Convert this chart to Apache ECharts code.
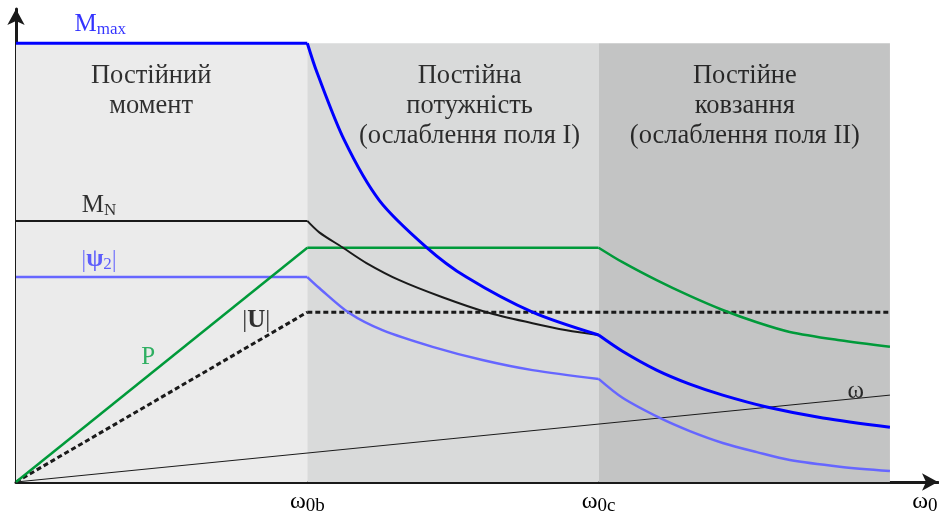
<!DOCTYPE html>
<html>
<head>
<meta charset="UTF-8">
<title>Характеристики двигуна</title>
<script src="https://cdn.jsdelivr.net/npm/echarts@6/dist/echarts.min.js"></script>
<style>body{margin:0;background:#fff;}</style>
</head>
<body>
<div id="chart" style="width:939px;height:511px;"></div>
<script>
// x: ω / ω0b,  y: частка від Mmax
var regionEdges = [0, 1, 2, 3];
var regionTop = 1;

var mMax = [[0, 1], [1, 1], [1.034, 0.932], [1.127, 0.779], [1.247, 0.642], [1.409, 0.535], [1.546, 0.467],
    [1.773, 0.387], [2, 0.335],
    [2.082, 0.298], [2.199, 0.255], [2.313, 0.223], [2.426, 0.198], [2.577, 0.171], [2.770, 0.146], [3, 0.125]];
var mN = [[0, 0.595], [1, 0.595], [1.041, 0.569], [1.120, 0.535], [1.203, 0.499], [1.316, 0.460], [1.464, 0.421],
    [1.615, 0.387], [1.773, 0.362], [1.890, 0.346], [2, 0.335]];
var power = [[0, 0], [1, 0.534], [2, 0.534], [2.082, 0.501], [2.199, 0.460], [2.313, 0.424], [2.426, 0.392],
    [2.543, 0.364], [2.656, 0.342], [2.828, 0.323], [3, 0.308]];
var psi2 = [[0, 0.467], [1, 0.467], [1.041, 0.442], [1.144, 0.385], [1.258, 0.346], [1.430, 0.308], [1.601, 0.278],
    [1.773, 0.255], [2, 0.235], [2.082, 0.192], [2.210, 0.146], [2.313, 0.116], [2.426, 0.089], [2.543, 0.068],
    [2.656, 0.050], [2.828, 0.035], [3, 0.025]];
var voltage = [[0, 0], [1, 0.387], [3, 0.387]];
var omega = [[0, 0], [3, 0.198]];

var tickValues = [1, 2, 3.12];
var tickSubs = ['0b', '0c', '0'];

// підписи кривих: [x, y, текст]
var curveLabels = [
    [0.289, 1.043, '{mb|M}{sb|max}'],
    [0.285, 0.631, '{m|M}{s|N}'],
    [0.285, 0.506, '{lb||}{pb|ψ}{sb2|2}{lb||}'],
    [0.454, 0.285, '{g|P}'],
    [0.825, 0.369, '{t||}{tb|U}{t||}'],
    [2.883, 0.207, '{t|ω}']
];
var regionLabels = [
    [0.464, 0.891, 'Постійний\nмомент'],
    [1.557, 0.856, 'Постійна\nпотужність\n(ослаблення поля I)'],
    [2.502, 0.856, 'Постійне\nковзання\n(ослаблення поля II)']
];
var regionColors = ['#ebebeb', '#d9dada', '#c3c4c4'];

var serif = 'Liberation Serif';
var chart = echarts.init(document.getElementById('chart'));

var areas = [];
for (var i = 0; i < regionColors.length; i++) {
    areas.push([
        {xAxis: regionEdges[i], yAxis: 0, itemStyle: {color: regionColors[i]}},
        {xAxis: regionEdges[i + 1], yAxis: regionTop}
    ]);
}

// ділить криву в точках зламу (межі зон), щоб згладжування не зачіпало злам
function pieces(data) {
    var out = [[data[0]]];
    for (var j = 1; j < data.length; j++) {
        out[out.length - 1].push(data[j]);
        var isEdge = regionEdges.indexOf(data[j][0]) > 0 && j < data.length - 1;
        if (isEdge) out.push([data[j]]);
    }
    return out;
}

var series = [{type: 'line', data: [], silent: true, markArea: {silent: true, data: areas}}];

function addLine(data, color, width, dash) {
    pieces(data).forEach(function (part) {
        series.push({
            type: 'line', data: part, showSymbol: false, symbol: 'none', silent: true,
            smooth: part.length > 2 ? 0.3 : false,
            lineStyle: {color: color, width: width, type: dash || 'solid'}
        });
    });
}

addLine(omega, '#1a1a1a', 1);
addLine(voltage, '#1a1a1a', 3, [5, 3]);
addLine(psi2, '#6666ff', 2.5);
addLine(power, '#009a3a', 2.5);
addLine(mN, '#1a1a1a', 2);
addLine(mMax, '#0000ff', 3);

series.push({
    type: 'scatter', data: regionLabels, symbolSize: 0, silent: true,
    label: {
        show: true, position: 'inside', align: 'center', verticalAlign: 'middle',
        formatter: function (p) { return p.data[2]; },
        fontFamily: serif, fontSize: 26.5, lineHeight: 30, color: '#000'
    }
});
series.push({
    type: 'scatter', data: curveLabels, symbolSize: 0, silent: true,
    label: {
        show: true, position: 'inside', align: 'center', verticalAlign: 'middle',
        formatter: function (p) { return p.data[2]; },
        rich: {
            mb: {fontFamily: serif, fontSize: 25, color: '#0000ff'},
            sb: {fontFamily: serif, fontSize: 17, color: '#0000ff', padding: [10, 0, 0, 0]},
            m: {fontFamily: serif, fontSize: 25, color: '#000'},
            s: {fontFamily: serif, fontSize: 17, color: '#000', padding: [10, 0, 0, 0]},
            lb: {fontFamily: serif, fontSize: 25, color: '#5a5aff'},
            pb: {fontFamily: serif, fontSize: 25, fontWeight: 'bold', color: '#3a3aff'},
            sb2: {fontFamily: serif, fontSize: 17, color: '#3a3aff', padding: [10, 0, 0, 0]},
            g: {fontFamily: serif, fontSize: 25, color: '#00a040'},
            t: {fontFamily: serif, fontSize: 25, color: '#000'},
            tb: {fontFamily: serif, fontSize: 25, fontWeight: 'bold', color: '#000'}
        }
    }
});

var option = {
    animation: false,
    grid: {left: 16, right: 1, top: 9, bottom: 29, outerBoundsMode: 'none', containLabel: false},
    xAxis: {
        type: 'value', min: 0, max: 3.165,
        splitLine: {show: false}, axisTick: {show: false},
        axisLine: {lineStyle: {color: '#1a1a1a', width: 3}, symbol: ['none', 'arrow'], symbolSize: [13, 16]},
        axisLabel: {
            customValues: tickValues, margin: 5,
            formatter: function (v) {
                for (var k = 0; k < tickValues.length; k++) {
                    if (Math.abs(v - tickValues[k]) < 1e-6) return '{w|ω}{s|' + tickSubs[k] + '}';
                }
                return '';
            },
            rich: {
                w: {fontFamily: serif, fontSize: 24, color: '#000'},
                s: {fontFamily: serif, fontSize: 19, color: '#000', padding: [10, 0, 0, 0]}
            }
        }
    },
    yAxis: {
        type: 'value', min: 0, max: 1.078,
        splitLine: {show: false}, axisTick: {show: false}, axisLabel: {show: false},
        axisLine: {lineStyle: {color: '#1a1a1a', width: 3}, symbol: ['none', 'arrow'], symbolSize: [13, 16]}
    },
    series: series
};
chart.setOption(option);
</script>
</body>
</html>
